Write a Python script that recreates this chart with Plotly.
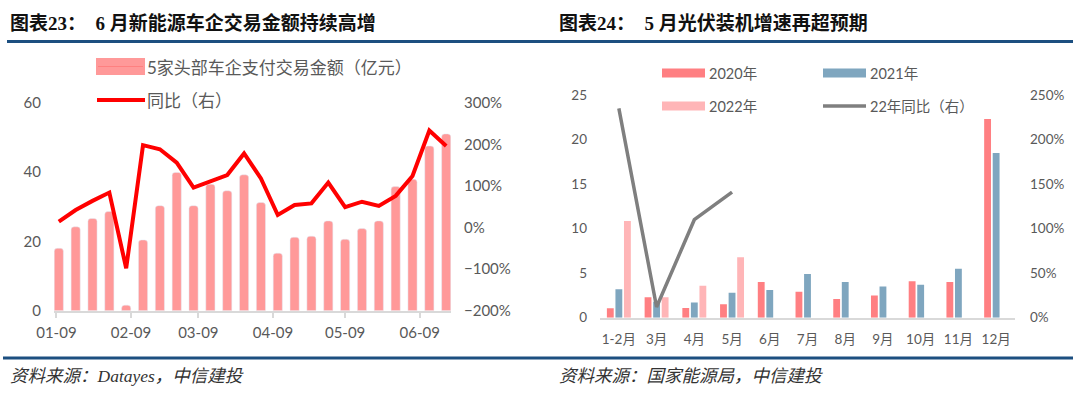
import plotly.graph_objects as go

# ---------------- data: left chart ----------------
weeks = ["2022-01-10", "2022-01-17", "2022-01-24", "2022-01-31", "2022-02-07", "2022-02-14",
         "2022-02-21", "2022-02-28", "2022-03-07", "2022-03-14", "2022-03-21", "2022-03-28",
         "2022-04-04", "2022-04-11", "2022-04-18", "2022-04-25", "2022-05-02", "2022-05-09",
         "2022-05-16", "2022-05-23", "2022-05-30", "2022-06-06", "2022-06-13", "2022-06-20"]
amount = [18.0, 24.2, 26.6, 28.6, 1.6, 20.4, 30.3, 39.9, 30.3, 36.5, 34.6, 39.2,
          31.2, 16.6, 21.2, 21.5, 25.9, 20.6, 23.7, 25.9, 35.8, 37.9, 47.5, 51.0]
yoy = [14, 42, 64, 84, -98, 198, 188, 156, 96, 110, 126, 178,
       118, 30, 54, 58, 108, 49, 62, 52, 76, 124, 233, 196]
left_tickvals = ["2022-01-09", "2022-02-09", "2022-03-09", "2022-04-09", "2022-05-09", "2022-06-09"]
left_ticktext = ["01-09", "02-09", "03-09", "04-09", "05-09", "06-09"]
left_name_bar = "5家头部车企支付交易金额（亿元）"
left_name_line = "同比（右）"

# ---------------- data: right chart ----------------
months = ["1-2月", "3月", "4月", "5月", "6月", "7月", "8月", "9月", "10月", "11月", "12月"]
pv2020 = [1.05, 2.3, 1.1, 1.5, 4.0, 2.9, 2.1, 2.5, 4.1, 4.0, 22.3]
pv2021 = [3.2, 1.8, 1.7, 2.8, 3.1, 4.9, 4.0, 3.5, 3.7, 5.5, 18.5]
pv2022 = [10.85, 2.3, 3.6, 6.8, None, None, None, None, None, None, None]
pv_yoy = [235, 12, 110, 141, None, None, None, None, None, None, None]
right_names = ["2020年", "2021年", "2022年", "22年同比（右）"]

titles = ["图表23：  6 月新能源车企交易金额持续高增", "图表24：  5 月光伏装机增速再超预期"]
sources = ["资料来源：Datayes，中信建投", "资料来源：国家能源局，中信建投"]

# ---------------- styles ----------------
W, H = 1080, 396
def fx(x): return x / W
def fy(y): return 1 - y / H

C_BAR = "#FF9999"
C_RED = "#FF0000"
C20, C21, C22 = "#FF7F82", "#7FA6BF", "#FFB5B7"
C_GRAY = "#7F7F7F"
C_TXT = "#595959"
C_BLUE = "#1C4F80"
FONT = "Lato, 'Noto Sans CJK SC', sans-serif"
TITLE_FONT = "'Liberation Serif', 'Noto Sans CJK SC', serif"

fig = go.Figure()

# left chart
fig.add_trace(go.Bar(x=weeks, y=amount, name=left_name_bar, marker=dict(color=C_BAR, cornerradius=3),
                     width=3.8 * 86400000, xaxis="x", yaxis="y", showlegend=False))
fig.add_trace(go.Scatter(x=weeks, y=yoy, name=left_name_line, mode="lines",
                         line=dict(color=C_RED, width=4), xaxis="x", yaxis="y2", showlegend=False))

# right chart
for vals, col, nm in [(pv2020, C20, right_names[0]), (pv2021, C21, right_names[1]), (pv2022, C22, right_names[2])]:
    fig.add_trace(go.Bar(x=months, y=vals, name=nm, marker=dict(color=col, line=dict(width=0)),
                         xaxis="x2", yaxis="y3", showlegend=False))
fig.add_trace(go.Scatter(x=months, y=pv_yoy, name=right_names[3], mode="lines",
                         line=dict(color=C_GRAY, width=3.5), xaxis="x2", yaxis="y4",
                         connectgaps=False, showlegend=False))

tick_left = dict(family=FONT, size=15, color=C_TXT)
tick_right = dict(family=FONT, size=13.5, color=C_TXT)

fig.update_layout(
    width=W, height=H, autosize=False,
    margin=dict(l=0, r=0, t=0, b=0, pad=0, autoexpand=False),
    paper_bgcolor="white", plot_bgcolor="white",
    barmode="group", bargap=0.32, bargroupgap=0.2,
    xaxis=dict(domain=[fx(54), fx(451)], type="date",
               range=["2022-01-08", "2022-06-22"],
               tickvals=left_tickvals, ticktext=left_ticktext,
               showline=True, linecolor="#D9D9D9", linewidth=2,
               ticks="outside", tickcolor="#D9D9D9", ticklen=5, tickwidth=2,
               ticklabelstandoff=2,
               showgrid=False, zeroline=False, tickfont=tick_left, anchor="y", automargin=False),
    yaxis=dict(domain=[fy(310.7), fy(102.7)], range=[0, 60], dtick=20,
               showgrid=False, zeroline=False, showline=False, ticks="",
               ticklabelstandoff=12, tickfont=tick_left, anchor="x", automargin=False),
    yaxis2=dict(overlaying="y", side="right", range=[-200, 300], dtick=100, ticksuffix="%",
                showgrid=False, zeroline=False, showline=False, ticks="",
                ticklabelstandoff=12, tickfont=tick_left, anchor="x", automargin=False),
    xaxis2=dict(domain=[fx(600), fx(1015)], type="category",
                showline=True, linecolor="#D9D9D9", linewidth=1.5,
                ticks="", showgrid=False, zeroline=False, tickfont=tick_right,
                ticklabelstandoff=8, anchor="y3", automargin=False),
    yaxis3=dict(domain=[fy(317.7), fy(95)], range=[0, 25], dtick=5,
                showgrid=False, zeroline=False, showline=False, ticks="",
                ticklabelstandoff=12, tickfont=tick_right, anchor="x2", automargin=False),
    yaxis4=dict(overlaying="y3", side="right", range=[0, 250], dtick=50, ticksuffix="%",
                showgrid=False, zeroline=False, showline=False, ticks="",
                ticklabelstandoff=14, tickfont=tick_right, anchor="x2", automargin=False),
)

shapes = []
annotations = []

# header/footer rules
shapes.append(dict(type="line", xref="paper", yref="paper", x0=fx(7), x1=fx(1073), y0=fy(41.5), y1=fy(41.5),
                   line=dict(color=C_BLUE, width=3)))
shapes.append(dict(type="line", xref="paper", yref="paper", x0=fx(3), x1=fx(1073), y0=fy(358), y1=fy(358),
                   line=dict(color=C_BLUE, width=3)))

# titles and sources
for xpos, t, s in [(8, titles[0], sources[0]), (557, titles[1], sources[1])]:
    annotations.append(dict(xref="paper", yref="paper", x=fx(xpos), y=fy(23), xanchor="left", yanchor="middle",
                            text="<b>" + t + "</b>", showarrow=False,
                            font=dict(family=TITLE_FONT, size=19, color="#111111")))
    annotations.append(dict(xref="paper", yref="paper", x=fx(xpos), y=fy(376), xanchor="left", yanchor="middle",
                            text="<i>" + s + "</i>", showarrow=False,
                            font=dict(family=TITLE_FONT, size=17.5, color="#333333")))

# left legend
shapes.append(dict(type="rect", xref="paper", yref="paper", x0=fx(96), x1=fx(145), y0=fy(75), y1=fy(58),
                   fillcolor=C_BAR, line=dict(width=0)))
shapes.append(dict(type="line", xref="paper", yref="paper", x0=fx(98), x1=fx(143), y0=fy(66.5), y1=fy(66.5),
                   line=dict(color="#FF8080", width=1)))
shapes.append(dict(type="line", xref="paper", yref="paper", x0=fx(97), x1=fx(145), y0=fy(100), y1=fy(100),
                   line=dict(color=C_RED, width=4)))
annotations.append(dict(xref="paper", yref="paper", x=fx(145), y=fy(67), xanchor="left", yanchor="middle",
                        text=left_name_bar, showarrow=False, font=dict(family=FONT, size=17, color=C_TXT)))
annotations.append(dict(xref="paper", yref="paper", x=fx(145), y=fy(100), xanchor="left", yanchor="middle",
                        text=left_name_line, showarrow=False, font=dict(family=FONT, size=17, color=C_TXT)))

# right legend
leg = [(662, 73, C20, right_names[0], "rect"), (823, 73, C21, right_names[1], "rect"),
       (662, 106, C22, right_names[2], "rect"), (823, 106, C_GRAY, right_names[3], "line")]
for x0, yc, col, nm, kind in leg:
    if kind == "rect":
        shapes.append(dict(type="rect", xref="paper", yref="paper", x0=fx(x0), x1=fx(x0 + 43),
                           y0=fy(yc + 4.5), y1=fy(yc - 4.5), fillcolor=col, line=dict(width=0)))
    else:
        shapes.append(dict(type="line", xref="paper", yref="paper", x0=fx(x0), x1=fx(x0 + 43),
                           y0=fy(yc), y1=fy(yc), line=dict(color=col, width=3.5)))
    annotations.append(dict(xref="paper", yref="paper", x=fx(x0 + 45), y=fy(yc), xanchor="left", yanchor="middle",
                            text=nm, showarrow=False, font=dict(family=FONT, size=14.5, color=C_TXT)))

fig.update_layout(shapes=shapes, annotations=annotations)

fig.write_html("out.html", config={"displayModeBar": False},
               post_script="document.body.style.margin='0';document.body.style.overflow='hidden';")
